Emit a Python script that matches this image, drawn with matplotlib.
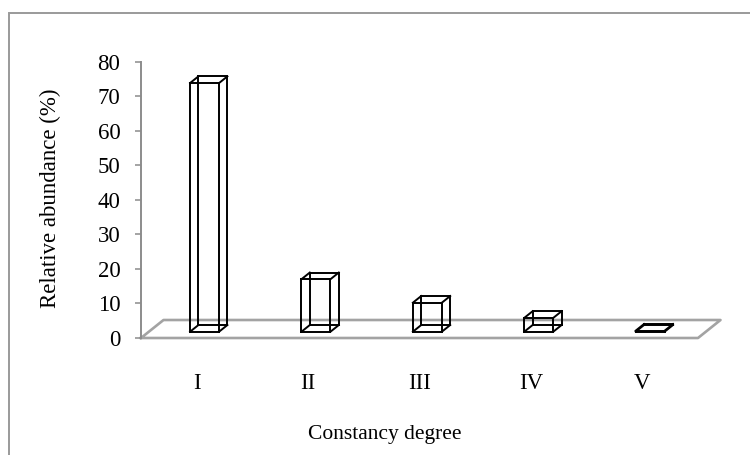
import numpy as np
import matplotlib.pyplot as plt
from matplotlib.patches import Rectangle

# relative abundance per constancy degree
degrees = ['I', 'II', 'III', 'IV', 'V']
abundance = [72.0, 15.2, 8.4, 4.0, 0.3]

plt.rcParams['font.family'] = ['Liberation Serif', 'DejaVu Serif']

W, H = 750, 455
fig = plt.figure(figsize=(W / 100, H / 100), dpi=100)
fig.patch.set_facecolor('white')

# chart area border (only left and top are inside the canvas)
fig.patches.append(Rectangle((9 / W, -0.2), 1.2, (H - 13) / H + 0.2,
                             transform=fig.transFigure, fill=False,
                             edgecolor='#9a9a9a', lw=1.4))

x0px, x1px, y0px, y1px = 141, 698, 338, 61.7
ax = fig.add_axes([x0px / W, (H - y0px) / H, (x1px - x0px) / W, (y0px - y1px) / H])
ax.set_xlim(0.5, 5.5)
ax.set_ylim(0, 80)
ax.patch.set_alpha(0)

px_x = (x1px - x0px) / 5.0      # pixels per category
px_y = (y0px - y1px) / 80.0     # pixels per percent

# oblique depth of the floor, in data units
ddx = 22.5 / px_x
ddy = 18.0 / px_y

grey = '#a3a3a3'
floor = np.array([[0.5, 0], [5.5, 0], [5.5 + ddx, ddy], [0.5 + ddx, ddy], [0.5, 0]])
ax.plot(floor[:, 0], floor[:, 1], color=grey, lw=1.9, clip_on=False, zorder=1)

# wireframe boxes
w = 29 / px_x
d0, d1 = 0.35, 0.72
bx, by = (d1 - d0) * ddx, (d1 - d0) * ddy
for i, v in enumerate(abundance):
    c = i + 1
    xa = c - w / 2 + d0 * ddx
    xb = xa + w
    ya = d0 * ddy
    yb = ya + v
    front = [(xa, ya), (xb, ya), (xb, yb), (xa, yb)]
    back = [(x + bx, y + by) for x, y in front]
    for k in range(4):
        p, q = front[k], front[(k + 1) % 4]
        ax.plot([p[0], q[0]], [p[1], q[1]], color='black', lw=1.4, clip_on=False, zorder=3)
        p, q = back[k], back[(k + 1) % 4]
        ax.plot([p[0], q[0]], [p[1], q[1]], color='black', lw=1.4, clip_on=False, zorder=3)
        p, q = front[k], back[k]
        ax.plot([p[0], q[0]], [p[1], q[1]], color='black', lw=1.4, clip_on=False, zorder=3)

for s in ['top', 'right', 'bottom']:
    ax.spines[s].set_visible(False)
ax.spines['left'].set_color('#8c8c8c')
ax.spines['left'].set_linewidth(1.4)

ax.set_yticks(np.arange(0, 81, 10))
ax.tick_params(axis='y', length=4.3, width=1.1, color='#8c8c8c', pad=10.5,
               labelsize=16.5)
ax.set_xticks(range(1, 6))
ax.set_xticklabels(degrees)
ax.tick_params(axis='x', length=0, pad=25, labelsize=16.5)

fig.text(385 / W, 1 - 435 / H, 'Constancy degree', ha='center', va='center', fontsize=15.5)
fig.text(50 / W, 1 - 198 / H, 'Relative abundance (%)', ha='center', va='center',
         rotation=90, fontsize=16.5)

fig.savefig('out.png', dpi=100)
